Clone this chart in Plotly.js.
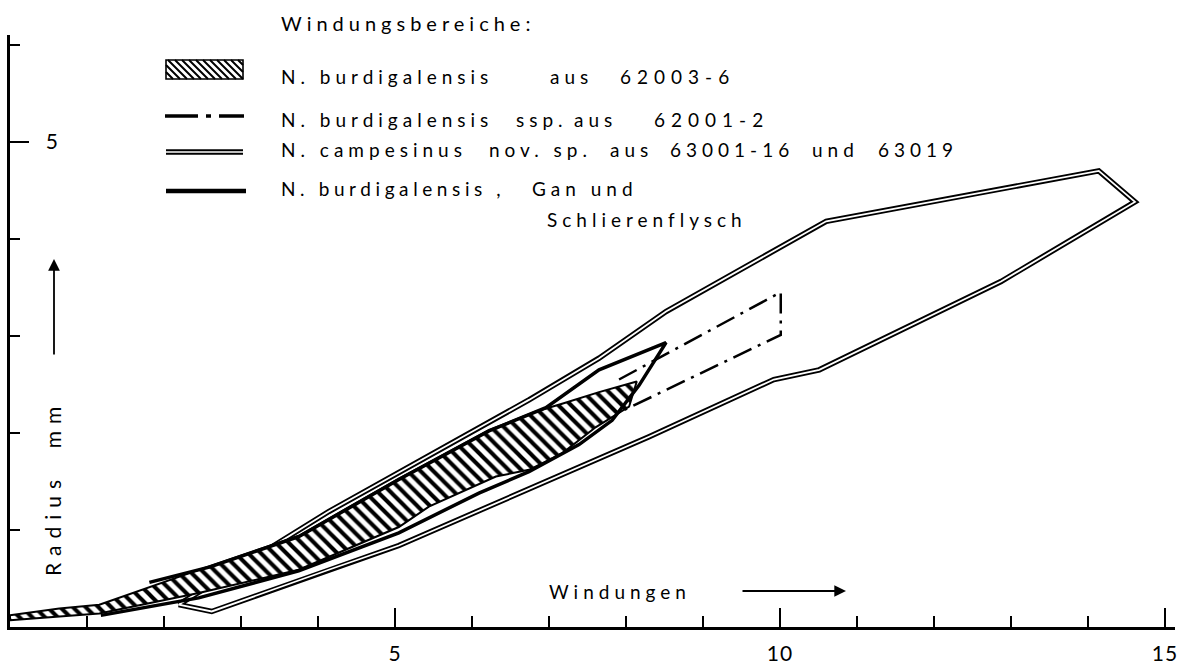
<!DOCTYPE html>
<html><head><meta charset="utf-8">
<script src="https://cdn.plot.ly/plotly-3.0.1.min.js"></script>
<style>
html,body{margin:0;padding:0;background:#fff;}
#chart{width:1185px;height:670px;}
.annotation-text{letter-spacing:5px;}
.xtick text,.ytick text{letter-spacing:1px;}
</style></head><body><div id="chart"></div>
<script>
// ---- data (Windungen, Radius mm) ----
// N. campesinus nov. sp. (closed range)
const campX = [2.19, 4.14, 6.74, 7.65, 8.52, 10.60, 14.14, 14.61, 12.87, 10.51, 9.92, 8.30, 5.05, 4.14, 2.62, 2.19];
const campY = [0.23, 1.19, 2.34, 2.77, 3.25, 4.18, 4.70, 4.38, 3.56, 2.65, 2.55, 1.96, 0.84, 0.59, 0.16, 0.23];
// N. burdigalensis aus 62003-6 (hatched range): upper bound then lower bound
const hatchUpX = [0, 0.64, 1.16, 1.94, 2.60, 3.75, 5.05, 6.22, 6.83, 7.17, 7.65, 8.14];
const hatchUpY = [0.12, 0.19, 0.23, 0.45, 0.63, 0.94, 1.53, 2.03, 2.22, 2.30, 2.42, 2.53];
const hatchLoX = [8.04, 7.61, 7.17, 6.74, 6.31, 5.44, 5.05, 3.75, 2.45, 1.16, 0];
const hatchLoY = [2.27, 2.06, 1.79, 1.62, 1.55, 1.24, 1.03, 0.59, 0.35, 0.14, 0.07];
// N. burdigalensis, Gan und Schlierenflysch (lower bound -> tip -> upper bound)
const ganX = [1.18, 2.45, 3.75, 5.05, 6.09, 6.74, 7.39, 7.82, 8.17, 8.52, 7.65, 6.96, 6.22, 5.05, 3.75, 2.60, 1.81];
const ganY = [0.12, 0.30, 0.58, 0.97, 1.38, 1.60, 1.88, 2.13, 2.49, 2.93, 2.65, 2.26, 2.02, 1.52, 0.93, 0.62, 0.46];
// N. burdigalensis ssp. aus 62001-2 (dash-dot range)
const sspX = [7.91, 10.01, 10.01, 7.91];
const sspY = [2.55, 3.45, 3.01, 2.21];
// ticks
const xTickVals = [5, 10, 15];
const xTickText = ['5', '10', '15'];
const yTickVals = [5];
const yTickText = ['5'];

// ---- layout helpers ----
const W = 1185, H = 670, ML = 10, MR = 10, MT = 35, MB = 43;
const PW = W - ML - MR, PH = H - MT - MB;
const px = x => (x - ML) / PW;
const py = y => (MT + PH - y) / PH;
const FONT = 'Lato, "Open Sans", sans-serif';

const hatchX = hatchUpX.concat(hatchLoX, [hatchUpX[0]]);
const hatchY = hatchUpY.concat(hatchLoY, [hatchUpY[0]]);

const traces = [
  {x: campX, y: campY, mode: 'lines', line: {color: '#000', width: 5.5}, hoverinfo: 'skip', showlegend: false},
  {x: campX, y: campY, mode: 'lines', line: {color: '#fff', width: 1.8}, hoverinfo: 'skip', showlegend: false},
  {x: hatchX, y: hatchY, mode: 'lines', fill: 'toself', fillcolor: '#fff',
   fillpattern: {shape: '\\', fgcolor: '#000', bgcolor: '#fff', size: 9, solidity: 0.45},
   line: {color: '#000', width: 2}, hoverinfo: 'skip', showlegend: false},
  {x: ganX, y: ganY, mode: 'lines', line: {color: '#000', width: 3.5}, hoverinfo: 'skip', showlegend: false},
  {x: sspX, y: sspY, mode: 'lines', line: {color: '#000', width: 2.5, dash: '20px,7px,3px,7px'}, hoverinfo: 'skip', showlegend: false}
];

// ---- legend key (decoration) ----
const shapes = [];
const r = {x0: 166, x1: 243, y0: 60, y1: 79};
shapes.push({type: 'rect', xref: 'paper', yref: 'paper', x0: px(r.x0), x1: px(r.x1), y0: py(r.y1), y1: py(r.y0), line: {color: '#000', width: 1.6}, fillcolor: '#fff'});
let path = '';
const dh = r.y1 - r.y0;
for (let a = r.x0 - dh; a < r.x1; a += 7) {
  const t0 = Math.max(0, (r.x0 - a) / dh), t1 = Math.min(1, (r.x1 - a) / dh);
  if (t1 <= t0) continue;
  path += 'M' + px(a + dh * t0) + ',' + py(r.y0 + dh * t0) + 'L' + px(a + dh * t1) + ',' + py(r.y0 + dh * t1);
}
shapes.push({type: 'path', xref: 'paper', yref: 'paper', path: path, line: {color: '#000', width: 2}});
shapes.push({type: 'line', xref: 'paper', yref: 'paper', x0: px(165), x1: px(244), y0: py(116), y1: py(116), line: {color: '#000', width: 3.5, dash: '33px,8px,5px,8px'}});
shapes.push({type: 'line', xref: 'paper', yref: 'paper', x0: px(166), x1: px(243), y0: py(152), y1: py(152), line: {color: '#000', width: 5.5}});
shapes.push({type: 'line', xref: 'paper', yref: 'paper', x0: px(166), x1: px(243), y0: py(152), y1: py(152), line: {color: '#fff', width: 1.6}});
shapes.push({type: 'line', xref: 'paper', yref: 'paper', x0: px(166), x1: px(246), y0: py(191), y1: py(191), line: {color: '#000', width: 4.5}});

function txt(s, x, y, size, sp) {
  return {text: '<span style="letter-spacing:' + (sp || 5) + 'px">' + s + '</span>', xref: 'paper', yref: 'paper',
          x: px(x), y: py(y), xanchor: 'left', yanchor: 'middle',
          showarrow: false, font: {family: FONT, size: size || 19, color: '#000'}};
}
const annotations = [
  txt('Windungsbereiche:', 279, 23, 20, 5),
  txt('N. burdigalensis', 279, 76), txt('aus', 548, 76), txt('62003-6', 618, 76, 19, 6),
  txt('N. burdigalensis', 279, 119), txt('ssp.', 514, 119), txt('aus', 572, 119), txt('62001-2', 652, 119, 19, 6),
  txt('N. campesinus', 279, 149), txt('nov. sp.', 487, 149), txt('aus', 608, 149), txt('63001-16', 668, 149), txt('und', 810, 149), txt('63019', 876, 149),
  txt('N. burdigalensis ,', 279, 188, 19, 4.6), txt('Gan und', 530, 188),
  txt('Schlierenflysch', 545, 219),
  txt('Windungen', 547, 591),
  {text: '<span style="letter-spacing:7px">Radius  mm</span>', xref: 'paper', yref: 'paper', x: px(52), y: py(488), xanchor: 'center', yanchor: 'middle',
   textangle: -90, showarrow: false, font: {family: FONT, size: 21, color: '#000'}},
  {text: '', xref: 'paper', yref: 'paper', x: px(54), y: py(259), ax: 0, ay: 97, showarrow: true,
   arrowhead: 2, arrowsize: 1.3, arrowwidth: 1.8, arrowcolor: '#000'},
  {text: '', xref: 'paper', yref: 'paper', x: px(846), y: py(591), ax: -105, ay: 0, showarrow: true,
   arrowhead: 2, arrowsize: 1.3, arrowwidth: 1.8, arrowcolor: '#000'}
];

const layout = {
  width: W, height: H,
  margin: {l: ML, r: MR, t: MT, b: MB, pad: 0},
  paper_bgcolor: '#fff', plot_bgcolor: '#fff',
  showlegend: false,
  font: {family: FONT, color: '#000'},
  xaxis: {range: [0, 15.13], showgrid: false, zeroline: false, showline: true, linecolor: '#000', linewidth: 3,
          tickmode: 'array', tickvals: xTickVals, ticktext: xTickText, ticks: 'inside', ticklen: 19, tickwidth: 2, tickcolor: '#000',
          ticklabelstandoff: 6, tickfont: {family: FONT, size: 21, color: '#000'},
          minor: {tickmode: 'linear', tick0: 0, dtick: 1, ticks: 'inside', ticklen: 11, tickwidth: 2, tickcolor: '#000', showgrid: false}},
  yaxis: {range: [0, 6.1], showgrid: false, zeroline: false, showline: true, linecolor: '#000', linewidth: 3,
          tickmode: 'array', tickvals: yTickVals, ticktext: yTickText, ticks: 'inside', ticklen: 19, tickwidth: 2, tickcolor: '#000',
          ticklabelposition: 'inside', ticklabelstandoff: 18, tickfont: {family: FONT, size: 21, color: '#000'},
          minor: {tickmode: 'linear', tick0: 0, dtick: 1, ticks: 'inside', ticklen: 10, tickwidth: 2, tickcolor: '#000', showgrid: false}},
  shapes: shapes,
  annotations: annotations
};

Plotly.newPlot('chart', traces, layout, {staticPlot: true, displayModeBar: false});
</script></body></html>
